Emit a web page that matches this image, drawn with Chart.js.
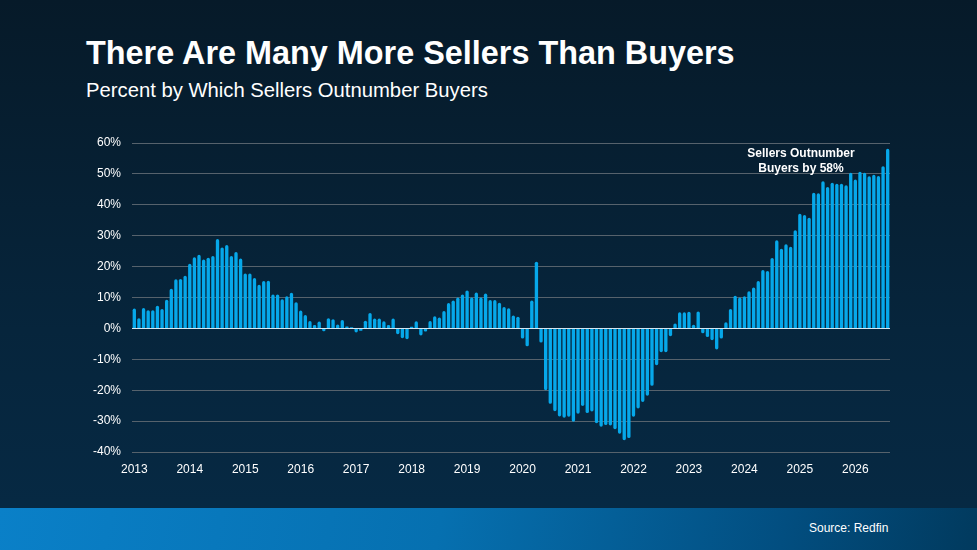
<!DOCTYPE html>
<html>
<head>
<meta charset="utf-8">
<script src="https://cdn.jsdelivr.net/npm/chart.js@4"></script>
<style>
  html, body { margin: 0; padding: 0; }
  body {
    width: 977px; height: 550px; overflow: hidden; position: relative;
    background: linear-gradient(180deg, #061a29 0%, #06253c 60%, #062a45 100%);
    font-family: "Liberation Sans", Arial, sans-serif; color: #fff;
  }
  #titulo { position: absolute; left: 86px; top: 34px; font-size: 32.4px; font-weight: bold; line-height: 38px; white-space: nowrap; }
  #subtitulo { position: absolute; left: 86px; top: 78px; font-size: 20.25px; line-height: 24px; white-space: nowrap; }
  #nota { position: absolute; left: 741px; top: 146px; width: 120px; text-align: center; font-size: 12px; font-weight: bold; line-height: 15px; }
  #banda {
    position: absolute; left: 0; top: 508px; width: 977px; height: 42px;
    background: linear-gradient(100deg, #0a80c8 0%, #0670b0 45%, #024e80 80%, #013a5e 100%);
  }
  #fuente { position: absolute; left: 809px; top: 521px; font-size: 12px; line-height: 14px; }
  #caja { position: absolute; left: 0; top: 0; width: 977px; height: 508px; }
</style>
</head>
<body>
<div id="titulo">There Are Many More Sellers Than Buyers</div>
<div id="subtitulo">Percent by Which Sellers Outnumber Buyers</div>
<div id="banda"></div>
<div id="fuente">Source: Redfin</div>
<div id="caja"><canvas id="grafica"></canvas></div>
<div id="nota">Sellers Outnumber<br>Buyers by 58%</div>
<script>
const anios = [2013, 2014, 2015, 2016, 2017, 2018, 2019, 2020, 2021, 2022, 2023, 2024, 2025, 2026];
const mesesUltimoAnio = 8;

const valores2013 = [6.4, 3.3, 6.6, 5.9, 5.9, 7.3, 6.3, 9.3, 12.8, 15.9, 16.0, 17.0];
const valores2014 = [20.9, 23.0, 23.8, 22.3, 22.9, 23.4, 28.9, 26.2, 27.0, 23.4, 24.7, 22.6];
const valores2015 = [17.8, 17.8, 16.3, 14.1, 15.3, 15.4, 11.0, 11.0, 9.4, 10.4, 11.5, 8.5];
const valores2016 = [5.8, 4.3, 2.4, 1.1, 2.2, -0.9, 3.3, 3.0, 1.3, 2.7, 0.6, 0.4];
const valores2017 = [-1.3, -0.8, 2.5, 5.0, 3.2, 3.2, 2.3, 1.1, 3.2, -1.9, -3.2, -3.5];
const valores2018 = [0.5, 2.3, -2.3, -1.0, 2.4, 3.9, 3.5, 5.6, 8.2, 9.0, 10.0, 11.0];
const valores2019 = [12.3, 10.0, 11.6, 10.0, 11.3, 9.2, 9.2, 8.3, 6.9, 6.5, 4.2, 3.8];
const valores2020 = [-3.3, -5.8, 9.0, 21.6, -4.6, -20.0, -24.4, -26.8, -28.5, -28.9, -28.6, -30.2];
const valores2021 = [-27.6, -25.1, -27.4, -26.9, -30.7, -31.8, -31.3, -31.4, -32.6, -34.1, -36.2, -35.5];
const valores2022 = [-28.6, -25.9, -23.8, -21.8, -18.6, -11.9, -7.7, -7.7, -2.5, 1.6, 5.2, 5.2];
const valores2023 = [5.4, 1.2, 5.5, -1.6, -2.8, -3.8, -6.8, -3.3, 2.0, 6.3, 10.6, 10.0];
const valores2024 = [10.4, 12.0, 13.2, 15.3, 18.9, 18.6, 22.8, 28.5, 25.8, 27.2, 26.4, 31.8];
const valores2025 = [37.1, 36.7, 35.8, 43.9, 43.7, 47.6, 45.8, 47.1, 46.8, 46.8, 46.3, 50.4];
const valores2026 = [48.2, 50.7, 50.4, 49.2, 49.7, 49.3, 52.5, 58.1];

const marcasY = [-40, -30, -20, -10, 0, 10, 20, 30, 40, 50, 60];

const valores = [].concat(valores2013, valores2014, valores2015, valores2016, valores2017,
  valores2018, valores2019, valores2020, valores2021, valores2022, valores2023,
  valores2024, valores2025, valores2026);

// una etiqueta por mes, solo se muestra el año en enero
const etiquetas = [];
anios.forEach((a, i) => {
  const n = i === anios.length - 1 ? mesesUltimoAnio : 12;
  for (let m = 0; m < n; m++) etiquetas.push(m === 0 ? String(a) : '');
});

const fuente = { family: '"Liberation Sans", Arial, sans-serif', size: 12 };

new Chart(document.getElementById('grafica').getContext('2d'), {
  type: 'bar',
  data: {
    labels: etiquetas,
    datasets: [{
      label: 'Sellers vs buyers',
      data: valores,
      backgroundColor: '#06a8ea',
      borderRadius: 2,
      borderSkipped: 'start',
      barPercentage: 0.72,
      categoryPercentage: 1
    }]
  },
  options: {
    responsive: true,
    maintainAspectRatio: false,
    animation: false,
    layout: { padding: { left: 0, right: 87, top: 143, bottom: 26 } },
    plugins: { legend: { display: false }, tooltip: { enabled: false } },
    scales: {
      x: {
        grid: { display: false },
        border: { display: false },
        ticks: { color: '#ffffff', font: fuente, autoSkip: false, maxRotation: 0, padding: 2 },
        afterFit: s => { s.height = 30; }
      },
      y: {
        min: marcasY[0],
        max: marcasY[marcasY.length - 1],
        afterBuildTicks: s => { s.ticks = marcasY.map(v => ({ value: v })); },
        grid: {
          drawTicks: false,
          color: c => c.tick && c.tick.value === 0 ? '#d4e6f0' : '#56626c',
          lineWidth: 1
        },
        border: { display: false },
        ticks: { color: '#ffffff', font: fuente, padding: 11, callback: v => v + '%' },
        afterFit: s => { s.width = 132; }
      }
    }
  }
});
</script>
</body>
</html>
